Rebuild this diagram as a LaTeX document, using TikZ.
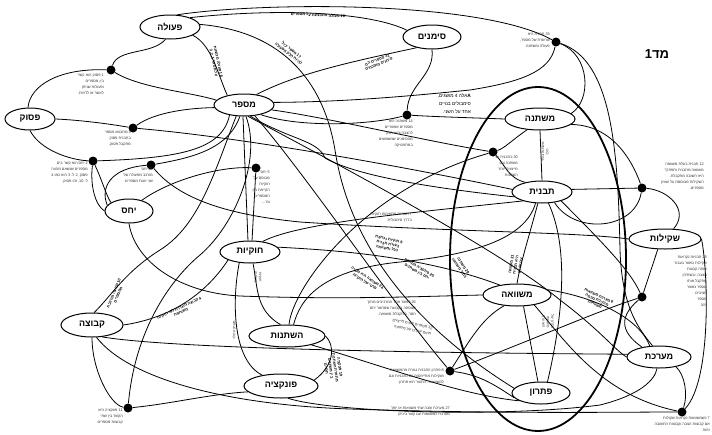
\documentclass[tikz,border=0pt]{standalone}
\usepackage{fontspec}
\newfontfamily\heb[Script=Hebrew]{Liberation Sans}
\TeXXeTstate=1
\usetikzlibrary{shapes.geometric}
\newcommand{\hl}[1]{\beginR#1\endR}
\pgfdeclarelayer{bg}
\pgfsetlayers{bg,main}
\tikzset{
  el/.style={ellipse, draw, line width=1pt, fill=white, inner sep=0pt, font=\heb\bfseries\fontsize{9}{9}\selectfont},
  dot/.style={circle, fill=black, inner sep=0pt, minimum size=9pt},
  ln/.style={line width=0.8pt},
  sm/.style={font=\heb\fontsize{3.8}{6}\selectfont, text=black!80, inner sep=0pt, align=right},
  bl/.style={font=\heb\bfseries\fontsize{3.9}{4.6}\selectfont, inner sep=0pt, align=center},
  vl/.style={font=\heb\fontsize{3.6}{4.4}\selectfont, text=black!80, inner sep=0pt, align=center},
  bigring/.style={line width=1.8pt}
}
\begin{document}
\begin{tikzpicture}[x=1pt,y=-1pt]
\useasboundingbox (0,0) rectangle (712,434);

% concept nodes
\node[el, minimum width=60pt, minimum height=24pt] (pulah) at (170,27) {פעולה};
\node[el, minimum width=58pt, minimum height=24pt] (simanim) at (432,37) {סימנים};
\node[el, minimum width=60pt, minimum height=22pt] (mispar) at (244,105) {מספר};
\node[el, minimum width=50pt, minimum height=22pt] (pasuk) at (30,119) {פסוק};
\node[el, minimum width=48pt, minimum height=24pt] (yahas) at (129,211) {יחס};
\node[el, minimum width=60pt, minimum height=22pt] (hukiyut) at (250,252) {חוקיות};
\node[el, minimum width=76pt, minimum height=22pt] (hishtanut) at (287,336) {השתנות};
\node[el, minimum width=74pt, minimum height=24pt] (funkzia) at (281,386) {פונקציה};
\node[el, minimum width=62pt, minimum height=24pt] (kvutza) at (92,325) {קבוצה};
\node[el, minimum width=70pt, minimum height=22pt] (mishtane) at (540,119) {משתנה};
\node[el, minimum width=60pt, minimum height=22pt] (tavnit) at (542,192) {תבנית};
\node[el, minimum width=68pt, minimum height=22pt] (mishvaa) at (517,295) {משוואה};
\node[el, minimum width=58pt, minimum height=22pt] (pitaron) at (541,393) {פתרון};
\node[el, minimum width=64pt, minimum height=22pt] (maarechet) at (659,357) {מערכת};
\node[el, minimum width=72pt, minimum height=20pt] (shkilut) at (665,239) {שקילות};

% junction dots
\node[dot] (D1) at (111,70) {};
\node[dot] (D2) at (133,128) {};
\node[dot] (D3) at (93,161) {};
\node[dot] (D4) at (151,165) {};
\node[dot] (D5) at (256,168) {};
\node[dot] (D6) at (407,115) {};
\node[dot] (D7) at (556,42) {};
\node[dot] (D8) at (493,152) {};
\node[dot] (D9) at (642,188) {};
\node[dot] (D10) at (642,297) {};
\node[dot] (D11) at (682,412) {};
\node[dot] (D12) at (450,371) {};
\node[dot] (D13) at (128,408) {};

% title
\node[font=\heb\bfseries\fontsize{13}{13}\selectfont, inner sep=0pt] (title) at (657,54) {{\heb מד}1};

\begin{pgfonlayer}{bg}
\fill[white] (0,0) rectangle (712,434);
\draw[bigring] (538,259) ellipse [x radius=88pt, y radius=172pt];

\draw[ln] (pulah.250) .. controls (152,55) and (118,48) .. (D1);
\draw[ln] (D1) .. controls (140,88) and (190,92) .. (mispar.170);
\draw[ln] (D1) .. controls (60,68) and (30,85) .. (pasuk.100);
\draw[ln] (pulah.60) .. controls (260,2) and (480,0) .. (D7);
\draw[ln] (pulah.25) .. controls (280,8) and (370,12) .. (simanim.165);
\draw[ln] (pulah.340) .. controls (212,45) and (218,75) .. (mispar.150);
\draw[ln] (pulah.5) .. controls (290,32) and (325,90) .. (335,150) .. controls (350,250) and (420,330) .. (pitaron.170);
\draw[ln] (mispar.40) .. controls (300,72) and (360,60) .. (simanim.215);
\draw[ln] (mispar.5) .. controls (350,102) and (420,95) .. (470,90) .. controls (520,82) and (550,72) .. (D7);
\draw[ln] (mispar.330) .. controls (300,128) and (370,125) .. (D6);
\draw[ln] (D6) .. controls (440,117) and (480,118) .. (mishtane.180);
\draw[ln] (simanim.270) .. controls (435,75) and (408,85) .. (D6);
\draw[ln] (D7) .. controls (590,55) and (592,100) .. (mishtane.10);
\draw[ln] (D7) .. controls (612,60) and (618,150) .. (620,250) .. controls (622,310) and (640,330) .. (maarechet.120);
\draw[ln] (mishtane.270) -- (tavnit.90);
\draw[ln] (mishtane.220) .. controls (512,140) and (505,148) .. (D8);
\draw[ln] (D8) .. controls (505,165) and (508,178) .. (tavnit.150);
\draw[ln] (mishtane.350) .. controls (612,125) and (632,160) .. (D9);
\draw[ln] (tavnit.5) -- (D9);
\draw[ln] (tavnit.320) .. controls (575,235) and (635,230) .. (D9);
\draw[ln] (D9) .. controls (668,190) and (690,210) .. (shkilut.50);
\draw[ln] (shkilut.235) -- (D10);
\draw[ln] (shkilut.0) .. controls (708,270) and (712,380) .. (D11);
\draw[ln] (D2) .. controls (250,138) and (420,170) .. (tavnit.175);
\draw[ln] (mispar.300) .. controls (290,140) and (318,140) .. (325,158) .. controls (360,178) and (450,190) .. (tavnit.190);
\draw[ln] (hukiyut.40) .. controls (300,222) and (420,212) .. (tavnit.205);
\draw[ln] (yahas.40) .. controls (170,180) and (220,166) .. (D5);
\draw[ln] (D5) -- (hukiyut.80);
\draw[ln] (mispar.265) -- (hukiyut.100);
\draw[ln] (mispar.235) .. controls (215,170) and (200,225) .. (160,250) .. controls (125,272) and (112,295) .. (kvutza.80);
\draw[ln] (D3) .. controls (180,158) and (222,150) .. (mispar.215);
\draw[ln] (D4) .. controls (190,158) and (228,150) .. (mispar.250);
\draw[ln] (D3) .. controls (90,185) and (95,205) .. (yahas.180);
\draw[ln] (D3) .. controls (102,180) and (106,195) .. (yahas.155);
\draw[ln] (D4) .. controls (110,168) and (100,188) .. (yahas.165);
\draw[ln] (D4) .. controls (180,200) and (230,215) .. (300,222) .. controls (450,232) and (580,232) .. (shkilut.180);
\draw[ln] (pasuk.0) .. controls (80,120) and (110,124) .. (D2);
\draw[ln] (D2) .. controls (155,112) and (190,108) .. (mispar.185);
\draw[ln] (pasuk.270) .. controls (40,150) and (70,160) .. (D3);
\draw[ln] (yahas.270) .. controls (135,262) and (180,293) .. (240,296) .. controls (350,300) and (430,296) .. (mishvaa.180);
\draw[ln] (mispar.315) .. controls (310,180) and (390,300) .. (D12);
\draw[ln] (mispar.290) .. controls (330,160) and (500,250) .. (560,300) .. controls (600,330) and (615,350) .. (maarechet.180);
\draw[ln] (hukiyut.10) .. controls (330,250) and (420,255) .. (mishvaa.150);
\draw[ln] (hukiyut.225) .. controls (232,300) and (232,360) .. (funkzia.150);
\draw[ln] (hukiyut.285) .. controls (258,290) and (256,310) .. (hishtanut.120);
\draw[ln] (hishtanut.60) .. controls (300,300) and (320,270) .. (400,262) .. controls (470,255) and (525,240) .. (tavnit.240);
\draw[ln] (hishtanut.80) .. controls (292,290) and (360,190) .. (D8);
\draw[ln] (kvutza.0) .. controls (170,318) and (205,295) .. (hukiyut.200);
\draw[ln] (kvutza.270) .. controls (92,370) and (110,405) .. (D13);
\draw[ln] (kvutza.310) .. controls (150,345) and (300,352) .. (maarechet.175);
\draw[ln] (kvutza.290) .. controls (130,380) and (230,405) .. (350,409) .. controls (500,414) and (620,412) .. (D11);
\draw[ln] (D13) .. controls (170,404) and (210,394) .. (funkzia.190);
\draw[ln] (D13) .. controls (135,330) and (170,280) .. (200,255) .. controls (235,225) and (262,160) .. (mispar.280);
\draw[ln] (funkzia.10) .. controls (335,365) and (335,345) .. (hishtanut.0);
\draw[ln] (funkzia.300) .. controls (330,412) and (500,418) .. (600,405) .. controls (640,395) and (655,380) .. (maarechet.260);
\draw[ln] (D12) .. controls (470,340) and (482,318) .. (mishvaa.220);
\draw[ln] (D12) .. controls (520,345) and (600,310) .. (D10);
\draw[ln] (D12) .. controls (480,375) and (495,385) .. (pitaron.190);
\draw[ln] (mishvaa.300) -- (pitaron.105);
\draw[ln] (tavnit.300) .. controls (570,250) and (562,320) .. (pitaron.60);
\draw[ln] (tavnit.250) .. controls (528,240) and (520,265) .. (mishvaa.90);
\draw[ln] (mishvaa.10) .. controls (600,298) and (640,320) .. (maarechet.130);
\draw[ln] (mishvaa.330) .. controls (565,340) and (600,395) .. (D11);
\draw[ln] (maarechet.330) .. controls (685,375) and (688,395) .. (D11);
\draw[ln] (tavnit.335) .. controls (600,240) and (630,270) .. (D10);
\draw[ln] (D10) .. controls (615,320) and (625,335) .. (maarechet.150);
\draw[ln] (hishtanut.340) .. controls (380,365) and (460,395) .. (pitaron.200);
\draw[ln] (mispar.350) .. controls (330,118) and (420,140) .. (D8);
\end{pgfonlayer}

% dot labels
\node[sm, anchor=north east] (tD1) at (104,74) {\hl{1 פסוק הוא קשר}\\\hl{בין מספרים}\\\hl{ופעולות שניתן}\\\hl{לאשר או לדחות.}};
\node[sm, anchor=north east] (tD2) at (131,131) {\hl{3 מתבטא מספר}\\\hl{בתבנית פסוק}\\\hl{מתקבל פסוק.}};
\node[sm, anchor=north east] (tD3) at (88,162) {\hl{2 יחס הוא קשר בים}\\\hl{מספרים שנשאם מהווה}\\\hl{פסוק, 2 ל- 3 הוא כמו 4}\\\hl{ל- 10, זהו פסוק.}};
\node[sm, anchor=north east] (tD4) at (153,168) {\hl{23 יחס}\\\hl{מורכב מפעולה של}\\\hl{שני זוגות מספרים}};
\node[sm, anchor=north east] (tD5) at (270,171) {\hl{5 יחס}\\\hl{מבוסס על}\\\hl{חוקיות}\\\hl{הקיימת בין}\\\hl{המספרים}\\\hl{וכו'...}};
\node[sm, anchor=north east] (tD6) at (413,120) {\hl{14 משתנה הוא}\\\hl{מספרים אפשריים}\\\hl{להצבה והוא חלק}\\\hl{מהסימנים שמשמשים}\\\hl{במתמטיקה}};
\node[sm, anchor=north east] (tD7) at (550,33) {\hl{33 תבנית היא}\\\hl{שרשרת של מספר,}\\\hl{פעולה ומשתנה.}};
\node[sm, anchor=north east] (tD8) at (518,156) {\hl{30 בתבנית יש}\\\hl{משתנה וגם}\\\hl{מייצגים יותר}\\\hl{השתנות}};
\node[sm, anchor=north east] (tD9) at (704,162) {\hl{12 תבנית בעלת משוואה}\\\hl{משוואה מתבנית ותפתרך}\\\hl{היא תשובה מתקבלת.}\\\hl{השקילות מבוססת על שוויון}\\\hl{מספרים.}};
\node[sm, anchor=north east] (tD10) at (707,256) {\hl{28 תבניות נקראות}\\\hl{שקילות כאשר בעבור}\\\hl{אותה קבוצת}\\\hl{הצבה, ובשתיהן}\\\hl{מתקבל אותו}\\\hl{מספר כאשר}\\\hl{מציבים}\\\hl{מספר}\\\hl{זהה}};
\node[sm, anchor=north east] (tD11) at (710,416) {\hl{7 כשמשוואות נקראות שקולות}\\\hl{אם קבוצות הצבה וקבוצות התשובה}\\\hl{זהות}};
\node[sm, anchor=north east] (tD12) at (444,369) {\hl{8 פתרון התבנית נגזרת מהמשוואה}\\\hl{ושקילות מתייחסות גם לתבניות וגם}\\\hl{למשוואות. התוצר הוא פתרון.}};
\node[sm, anchor=north east] (tD13) at (123,409) {\hl{11 פונקציה היא}\\\hl{הקשר בין שתי}\\\hl{קבוצות מספרים}};

% free labels
\node[sm, anchor=north east, font=\heb\fontsize{4.8}{8}\selectfont, text=black] (tA) at (471,93) {\hl{\textbf{A}אלה 4 מושגים,}\\\hl{סימבולים בנויים}\\\hl{אחד על השני.}};
\node[sm, anchor=north east] (t7) at (412,213) {\hl{7 תבניות מתאימות חוקיות}\\\hl{בדרך סימבולית}};
\node[sm, anchor=north east] (t26) at (416,301) {\hl{26 כאשר אחד המרכיבים מתוך}\\\hl{הנוסחה בקבוצה שמתאר יחס}\\\hl{חסר, מתקבלת משוואה.}};
\node[sm, anchor=north east] (t27) at (450,407) {\hl{27 מערכת שבה שתי משוואות או יותר}\\\hl{מערכת למשוואות עם קשר ביניהן}};
\node[sm, rotate=-12] (t32) at (412,327) {\hl{32 מספרים שונים מייצגים}\\\hl{תחום ערכים של משתנה}};

% edge labels (rotated, bold)
\node[bl, rotate=-3] (e16) at (318,15) {\hl{16 פעולה מתבצעת על מספרים}};
\node[bl, rotate=-78] (e18) at (216,62) {\hl{18 פעולה מבוצעת}\\\hl{על מספר 1, 2, 3}};
\node[bl, rotate=-38] (e17) at (290,52) {\hl{17 מספר יכול}\\\hl{להיות חלק מפעולה}};
\node[bl, rotate=22] (e32) at (378,62) {\hl{32 מספרים הם}\\\hl{סימנים מוסכמים}};
\node[bl, rotate=68] (ekv) at (116,294) {\hl{10 קבוצה מורכבת}\\\hl{ממספרים}};
\node[bl, rotate=25] (ekh) at (180,310) {\hl{4 קבוצה מוגדרת לפי חוקיות}\\\hl{משותפת}};
\node[bl, rotate=-12] (e9) at (388,244) {\hl{9 חוקיות נכתבת}\\\hl{בעזרת תבנית}\\\hl{כלל ומשוואה}};
\node[bl, rotate=-33] (e24) at (366,280) {\hl{24 משוואה היא מקרה}\\\hl{פרטי של חוקיות}};
\node[bl, rotate=-30] (e25) at (418,270) {\hl{25 פונקציה מתארת}\\\hl{יחס בין משתנים}};
\node[bl, rotate=-55] (e29) at (461,267) {\hl{29 משתנה}\\\hl{בתוך משוואה}};
\node[bl, rotate=80] (e31) at (516,265) {\hl{31 משוואה}\\\hl{היא תבנית}\\\hl{עם שוויון}};
\node[bl, rotate=-25] (e6) at (597,300) {\hl{6 מערכת משוואות}\\\hl{מורכבת מכמה}\\\hl{משוואות}};
\node[bl, rotate=-82] (e19) at (333,368) {\hl{19 פונקציה}\\\hl{מתארת השתנות}\\\hl{בין משתנים}\\\hl{תלויים}};

% vertical labels on straight connectors
\node[vl, rotate=90] (v1) at (545,152) {\hl{משתנה בלתי}\\\hl{תלוי}};
\node[vl, rotate=-90] (v2) at (258,277) {\hl{חוקיות}\\\hl{משתנה}};
\node[vl, rotate=90] (v3) at (234,330) {\hl{משתנה תלוי}};
\node[vl, rotate=-90] (v4) at (548,322) {\hl{פתרון של}\\\hl{משוואה}\\\hl{הוא ערך}};
\end{tikzpicture}
\end{document}
